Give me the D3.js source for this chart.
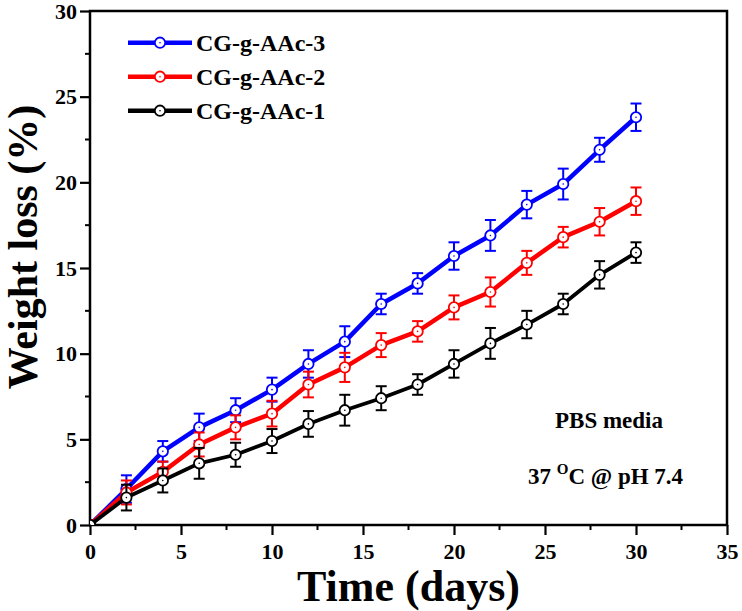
<!DOCTYPE html>
<html><head><meta charset="utf-8">
<script src="https://cdn.jsdelivr.net/npm/d3@7"></script>
<style>html,body{margin:0;padding:0;background:#fff}</style>
</head><body>
<script>
const days = [0,2,4,6,8,10,12,14,16,18,20,22,24,26,28,30];
const seriesNames = ["CG-g-AAc-3","CG-g-AAc-2","CG-g-AAc-1"];
const cg3 = [0,2.1,4.3,5.7,6.7,7.9,9.4,10.7,12.9,14.1,15.7,16.9,18.7,19.9,21.9,23.8];
const cg2 = [0,1.9,3.1,4.7,5.7,6.5,8.2,9.2,10.5,11.3,12.7,13.6,15.3,16.8,17.7,18.9];
const cg1 = [0,1.6,2.6,3.6,4.1,4.9,5.9,6.7,7.4,8.2,9.4,10.6,11.7,12.9,14.6,15.9];
const err3 = [0,0.8,0.6,0.8,0.7,0.7,0.8,0.9,0.6,0.6,0.8,0.9,0.8,0.9,0.7,0.8];
const err2 = [0,0.7,0.6,0.7,0.7,0.75,0.75,0.85,0.7,0.6,0.7,0.85,0.7,0.6,0.8,0.8];
const err1 = [0,0.75,0.7,0.9,0.7,0.7,0.75,0.9,0.7,0.6,0.8,0.9,0.8,0.6,0.8,0.6];
const colors = ["#0000ff","#ff0000","#000000"];
const xTicks = [0,5,10,15,20,25,30,35];
const yTicks = [0,5,10,15,20,25,30];

const W = 742, H = 611;
const L = 90, R = 727, T = 11, B = 525;
const font = "'Liberation Serif','Times New Roman',serif";

const svg = d3.select("body").append("svg").attr("width", W).attr("height", H)
  .style("font-family", font).style("font-weight", "bold");

const x = d3.scaleLinear().domain([0,35]).range([L,R]);
const y = d3.scaleLinear().domain([0,30]).range([B,T]);

svg.append("defs").append("clipPath").attr("id","clip")
  .append("rect").attr("x",L).attr("y",T).attr("width",R-L).attr("height",B-T);

// minor ticks
const minorX = d3.range(2.5, 35, 5);
const minorY = d3.range(2.5, 30, 5);
svg.append("g").selectAll("line").data(minorX).join("line")
  .attr("x1", d=>x(d)).attr("x2", d=>x(d)).attr("y1", B).attr("y2", B+5)
  .attr("stroke","#000").attr("stroke-width",2);
svg.append("g").selectAll("line").data(minorY).join("line")
  .attr("y1", d=>y(d)).attr("y2", d=>y(d)).attr("x1", L).attr("x2", L-5)
  .attr("stroke","#000").attr("stroke-width",2);

const xAxis = svg.append("g").attr("transform",`translate(0,${B})`)
  .call(d3.axisBottom(x).tickValues(xTicks).tickSize(10).tickPadding(8).tickFormat(d3.format("d")));
const yAxis = svg.append("g").attr("transform",`translate(${L},0)`)
  .call(d3.axisLeft(y).tickValues(yTicks).tickSize(10).tickPadding(3).tickFormat(d3.format("d")));
[xAxis,yAxis].forEach(a=>{
  a.select(".domain").remove();
  a.selectAll(".tick line").attr("stroke","#000").attr("stroke-width",2.2);
  a.selectAll(".tick text").attr("fill","#000").style("font-family",font)
    .style("font-weight","bold").style("font-size","22px");
});

// frame
svg.append("rect").attr("x",L).attr("y",T).attr("width",R-L).attr("height",B-T)
  .attr("fill","none").attr("stroke","#000").attr("stroke-width",2.5);

const data = [
  {name: seriesNames[0], vals: cg3, errs: err3, color: colors[0]},
  {name: seriesNames[1], vals: cg2, errs: err2, color: colors[1]},
  {name: seriesNames[2], vals: cg1, errs: err1, color: colors[2]}
];

const plot = svg.append("g").attr("clip-path","url(#clip)");
const line = d3.line().x((d,i)=>x(days[i])).y(d=>y(d));

data.forEach(s=>{
  const g = plot.append("g");
  g.append("path").datum(s.vals).attr("d", line).attr("fill","none")
    .attr("stroke", s.color).attr("stroke-width", s.color==="#000000"?3.8:4.5).attr("stroke-linejoin","round");
  const pts = s.vals.map((v,i)=>({x:days[i], v, e:s.errs[i]}));
  const eb = g.append("g").selectAll("g").data(pts.filter(p=>p.e>0)).join("g");
  eb.append("line").attr("x1",d=>x(d.x)).attr("x2",d=>x(d.x))
    .attr("y1",d=>y(d.v+d.e)).attr("y2",d=>y(d.v-d.e)).attr("stroke",s.color).attr("stroke-width",2);
  eb.append("line").attr("x1",d=>x(d.x)-5.5).attr("x2",d=>x(d.x)+5.5)
    .attr("y1",d=>y(d.v+d.e)).attr("y2",d=>y(d.v+d.e)).attr("stroke",s.color).attr("stroke-width",2);
  eb.append("line").attr("x1",d=>x(d.x)-5.5).attr("x2",d=>x(d.x)+5.5)
    .attr("y1",d=>y(d.v-d.e)).attr("y2",d=>y(d.v-d.e)).attr("stroke",s.color).attr("stroke-width",2);
  g.append("g").selectAll("circle").data(pts).join("circle")
    .attr("cx",d=>x(d.x)).attr("cy",d=>y(d.v)).attr("r",5.2)
    .attr("fill","#fff").attr("stroke",s.color).attr("stroke-width",1.8);
  g.append("g").selectAll("circle").data(pts).join("circle")
    .attr("cx",d=>x(d.x)).attr("cy",d=>y(d.v)).attr("r",0.8).attr("fill",s.color);
});

// legend
const leg = svg.append("g");
data.forEach((s,i)=>{
  const ly = 42.7 + i*34;
  leg.append("line").attr("x1",128).attr("x2",192).attr("y1",ly).attr("y2",ly)
    .attr("stroke",s.color).attr("stroke-width",4.5);
  leg.append("circle").attr("cx",160).attr("cy",ly).attr("r",5.2)
    .attr("fill","#fff").attr("stroke",s.color).attr("stroke-width",1.8);
  leg.append("circle").attr("cx",160).attr("cy",ly).attr("r",0.8).attr("fill",s.color);
  leg.append("text").attr("x",196).attr("y",ly+8.5).text(s.name)
    .style("font-size","24px").attr("fill","#000");
});

// annotations
svg.append("text").attr("x",555).attr("y",428).text("PBS media").style("font-size","23px");
const t2 = svg.append("text").attr("x",528).attr("y",484).style("font-size","23px");
t2.append("tspan").text("37 ");
t2.append("tspan").text("O").attr("dy",-10).style("font-size","15px");
t2.append("tspan").text("C @ pH 7.4").attr("dy",10);

// axis titles
svg.append("text").attr("x",(L+R)/2).attr("y",601).attr("text-anchor","middle")
  .text("Time (days)").style("font-size","44px");
svg.append("text").attr("transform","translate(37,247) rotate(-90)").attr("text-anchor","middle")
  .text("Weight loss (%)").style("font-size","42px");
</script>
</body></html>
